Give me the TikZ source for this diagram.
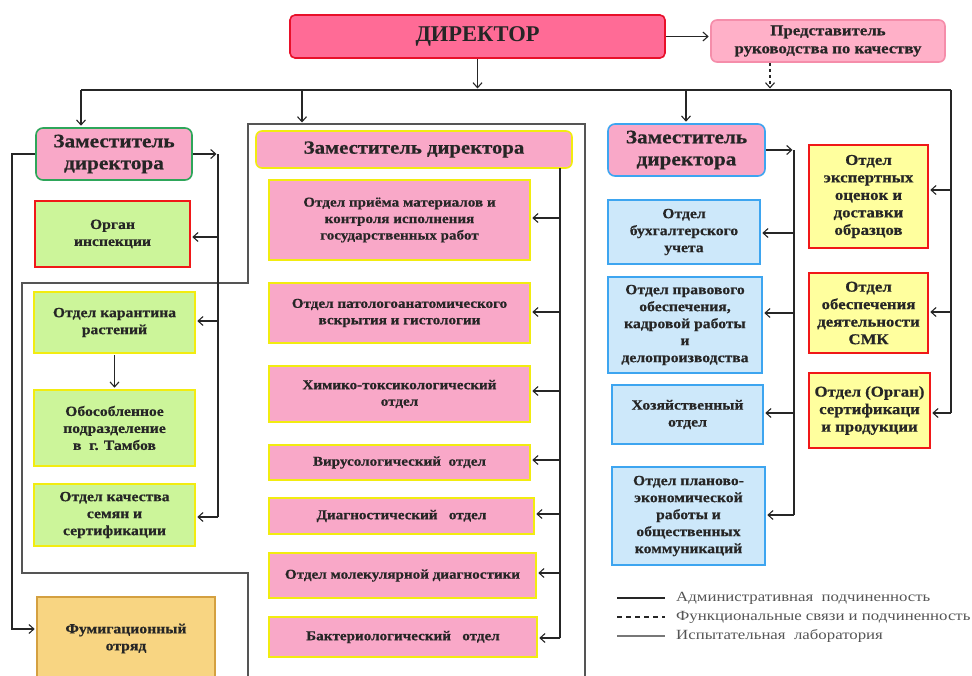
\documentclass[tikz,border=0pt]{standalone}
\usepackage{fontspec}
\setmainfont{Liberation Serif}
\newfontfamily\bxf[FakeStretch=1.12,BoldFeatures={FakeBold=0.6}]{Liberation Serif}
\newfontfamily\lgf[FakeStretch=1.2]{Liberation Serif}
\usetikzlibrary{arrows.meta}
\definecolor{dirfill}{HTML}{FF6B96}
\definecolor{dirdraw}{HTML}{E8102A}
\definecolor{repfill}{HTML}{FFB0C8}
\definecolor{repdraw}{HTML}{F58DAA}
\definecolor{pinkf}{HTML}{F9A8C8}
\definecolor{yelb}{HTML}{F2EC10}
\definecolor{greenf}{HTML}{CCF59A}
\definecolor{greenb}{HTML}{2EA65A}
\definecolor{redb}{HTML}{F01818}
\definecolor{bluef}{HTML}{CDE8FA}
\definecolor{blueb}{HTML}{3DA5F0}
\definecolor{yelf}{HTML}{FFFF9E}
\definecolor{oranf}{HTML}{F8D582}
\definecolor{oranb}{HTML}{D4A040}
\definecolor{txt}{HTML}{262626}
\definecolor{frm}{HTML}{555555}
\definecolor{lgtxt}{HTML}{555555}
\tikzset{
  bx/.style={draw, line width=1.6pt, align=center, inner sep=2pt, text=txt,
    font=\bxf\bfseries\fontsize{14}{17}\selectfont},
  midbx/.style={bx, fill=pinkf, draw=yelb, font=\bxf\bfseries\fontsize{13.5}{16.5}\selectfont},
  grnbx/.style={bx, fill=greenf, draw=yelb},
  blubx/.style={bx, fill=bluef, draw=blueb},
  ylwbx/.style={bx, fill=yelf, draw=redb, font=\bxf\bfseries\fontsize{15}{17.5}\selectfont},
  depbx/.style={bx, fill=pinkf, rounded corners=7pt, font=\bxf\bfseries\fontsize{19}{22}\selectfont},
  ln/.style={draw=txt, line width=1.3pt},
  arr/.style={ln, -{Straight Barb[length=5pt,width=9pt,line width=1.1pt]}, shorten >=1.5pt},
  frame/.style={draw=frm, line width=2pt},
  legtext/.style={anchor=west, inner sep=0pt, text=lgtxt, font=\lgf\fontsize{14}{16}\selectfont},
}
\begin{document}
\begin{tikzpicture}[x=1pt,y=-1pt]
\useasboundingbox (0,0) rectangle (972,675);
\fill[white] (0,0) rectangle (972,675);

% top
\node[bx, fill=dirfill, draw=dirdraw, rounded corners=5pt, minimum width=375pt, minimum height=43pt,
  font=\rmfamily\bfseries\fontsize{22.5}{24}\selectfont] (dir) at (477.5,36.5) {ДИРЕКТОР};
\node[bx, fill=repfill, draw=repdraw, rounded corners=6pt, minimum width=234pt, minimum height=42pt,
  font=\bxf\bfseries\fontsize{15}{18}\selectfont] (rep) at (828,41) {Представитель\\руководства по качеству};

% frame of the test laboratory
\draw[frame] (585,676) -- (585,124) -- (248,124) -- (248,283) -- (22,283) -- (22,573) -- (248,573) -- (248,676);

% left column
\node[depbx, draw=greenb, minimum width=156pt, minimum height=52pt] (dL) at (114,154) {Заместитель\\директора};
\node[grnbx, draw=redb, minimum width=155pt, minimum height=66pt] (org) at (112.5,234) {Орган\\инспекции};
\node[grnbx, minimum width=161pt, minimum height=61pt] (kar) at (114.5,322.5) {Отдел карантина\\растений};
\node[grnbx, minimum width=161pt, minimum height=76pt] (tam) at (114.5,428) {Обособленное\\подразделение\\в\ \ г. Тамбов};
\node[grnbx, minimum width=161pt, minimum height=62pt] (kach) at (114.5,515) {Отдел качества\\семян и\\сертификации};
\node[bx, fill=oranf, draw=oranb, minimum width=178pt, minimum height=83pt] (fum) at (126,638.5) {Фумигационный\\отряд};

% middle column
\node[depbx, draw=yelb, rounded corners=6pt, minimum width=316pt, minimum height=37pt,
  font=\bxf\bfseries\fontsize{18.5}{20}\selectfont] (dM) at (414,149.5) {Заместитель директора};
\node[midbx, minimum width=261pt, minimum height=80pt] (m1) at (399.5,220) {Отдел приёма материалов и\\контроля исполнения\\государственных работ};
\node[midbx, minimum width=261pt, minimum height=60pt] (m2) at (399.5,313) {Отдел патологоанатомического\\вскрытия и гистологии};
\node[midbx, minimum width=261pt, minimum height=56pt] (m3) at (399.5,394) {Химико-токсикологический\\отдел};
\node[midbx, minimum width=261pt, minimum height=35pt] (m4) at (399.5,462.5) {Вирусологический\ \ отдел};
\node[midbx, minimum width=265pt, minimum height=36pt] (m5) at (401.5,516) {Диагностический\ \ \ отдел};
\node[midbx, minimum width=267pt, minimum height=45pt] (m6) at (402.5,575.5) {Отдел молекулярной диагностики};
\node[midbx, minimum width=268pt, minimum height=40pt] (m7) at (403,637) {Бактериологический\ \ \ отдел};

% right column
\node[depbx, draw=blueb, minimum width=157pt, minimum height=52pt] (dR) at (686.5,150) {Заместитель\\директора};
\node[blubx, minimum width=152pt, minimum height=64pt] (b1) at (684,232) {Отдел\\бухгалтерского\\учета};
\node[blubx, minimum width=154pt, minimum height=96pt] (b2) at (685,325) {Отдел правового\\обеспечения,\\кадровой работы\\и\\делопроизводства};
\node[blubx, minimum width=151pt, minimum height=59pt] (b3) at (687.5,414.5) {Хозяйственный\\отдел};
\node[blubx, minimum width=153pt, minimum height=98pt] (b4) at (688.5,516) {Отдел планово-\\экономической\\работы и\\общественных\\коммуникаций};
\node[ylwbx, minimum width=119pt, minimum height=103pt] (y1) at (868.5,196.5) {Отдел\\экспертных\\оценок и\\доставки\\образцов};
\node[ylwbx, minimum width=119pt, minimum height=80pt] (y2) at (868.5,313) {Отдел\\обеспечения\\деятельности\\СМК};
\node[ylwbx, minimum width=121pt, minimum height=75pt] (y3) at (869.5,410.5) {Отдел (Орган)\\сертификаци\\и продукции};

% top connectors
\coordinate (busL) at (81,90);
\coordinate (busM) at (302,90);
\coordinate (busN) at (686,90);
\coordinate (busR) at (951,90);
\coordinate (dsh) at (770,90);
\coordinate (frT) at (302,124);
\draw[arr] (dir.east) -- (dir.east -| rep.west);
\draw[ln] (busL) -- (busR);
\draw[arr] (dir.south) -- (dir.south |- busL);
\draw[arr, dashed] (rep.south -| dsh) -- (dsh);
\draw[arr] (busL) -- (busL |- dL.north);
\draw[arr] (busM) -- (frT);
\draw[arr] (busN) -- (busN |- dR.north);

% far right trunk
\coordinate (r1) at (951,190);
\coordinate (r2) at (951,312);
\coordinate (r3) at (951,413);
\draw[ln] (busR) -- (r3);
\draw[arr] (r1) -- (r1 -| y1.east);
\draw[arr] (r2) -- (r2 -| y2.east);
\draw[arr] (r3) -- (r3 -| y3.east);

% right deputy trunk
\coordinate (rt0) at (794,150);
\coordinate (rt1) at (794,233);
\coordinate (rt2) at (794,313);
\coordinate (rt3) at (794,413);
\coordinate (rt4) at (794,515);
\draw[arr] (dR.east) -- (rt0);
\draw[ln] (rt0) -- (rt4);
\draw[arr] (rt1) -- (rt1 -| b1.east);
\draw[arr] (rt2) -- (rt2 -| b2.east);
\draw[arr] (rt3) -- (rt3 -| b3.east);
\draw[arr] (rt4) -- (rt4 -| b4.east);

% left deputy trunk
\coordinate (lt0) at (218,154);
\coordinate (lt1) at (218,237);
\coordinate (lt2) at (218,321);
\coordinate (lt3) at (218,517);
\coordinate (lo0) at (12,154);
\coordinate (lo1) at (12,629);
\draw[arr] (dL.east) -- (lt0);
\draw[ln] (lt0) -- (lt3);
\draw[arr] (lt1) -- (lt1 -| org.east);
\draw[arr] (lt2) -- (lt2 -| kar.east);
\draw[arr] (lt3) -- (lt3 -| kach.east);
\draw[arr] (dL.west) -- (lo0) -- (lo1) -- (lo1 -| fum.west);
\draw[arr, shorten <=1.5pt] (kar.south) -- (tam.north);

% middle trunk
\coordinate (mt0) at (560,168);
\coordinate (mt1) at (560,218);
\coordinate (mt2) at (560,312);
\coordinate (mt3) at (560,391);
\coordinate (mt4) at (560,460);
\coordinate (mt5) at (560,514);
\coordinate (mt6) at (560,573);
\coordinate (mt7) at (560,638);
\draw[ln] (mt0) -- (mt7);
\draw[arr] (mt1) -- (mt1 -| m1.east);
\draw[arr] (mt2) -- (mt2 -| m2.east);
\draw[arr] (mt3) -- (mt3 -| m3.east);
\draw[arr] (mt4) -- (mt4 -| m4.east);
\draw[arr] (mt5) -- (mt5 -| m5.east);
\draw[arr] (mt6) -- (mt6 -| m6.east);
\draw[arr] (mt7) -- (mt7 -| m7.east);

% legend
\coordinate (la1) at (617,598); \coordinate (lb1) at (665,598);
\coordinate (la2) at (617,617); \coordinate (lb2) at (665,617);
\coordinate (la3) at (617,636); \coordinate (lb3) at (665,636);
\draw[ln] (la1) -- (lb1);
\draw[ln, dashed, dash pattern=on 5pt off 4pt] (la2) -- (lb2);
\draw[draw=frm!80, line width=2.2pt] (la3) -- (lb3);
\node[legtext] (lg1) at (676,598) {Административная\ \ подчиненность};
\node[legtext] (lg2) at (676,617) {Функциональные связи и подчиненность};
\node[legtext] (lg3) at (676,636) {Испытательная\ \ лаборатория};
\end{tikzpicture}
\end{document}
